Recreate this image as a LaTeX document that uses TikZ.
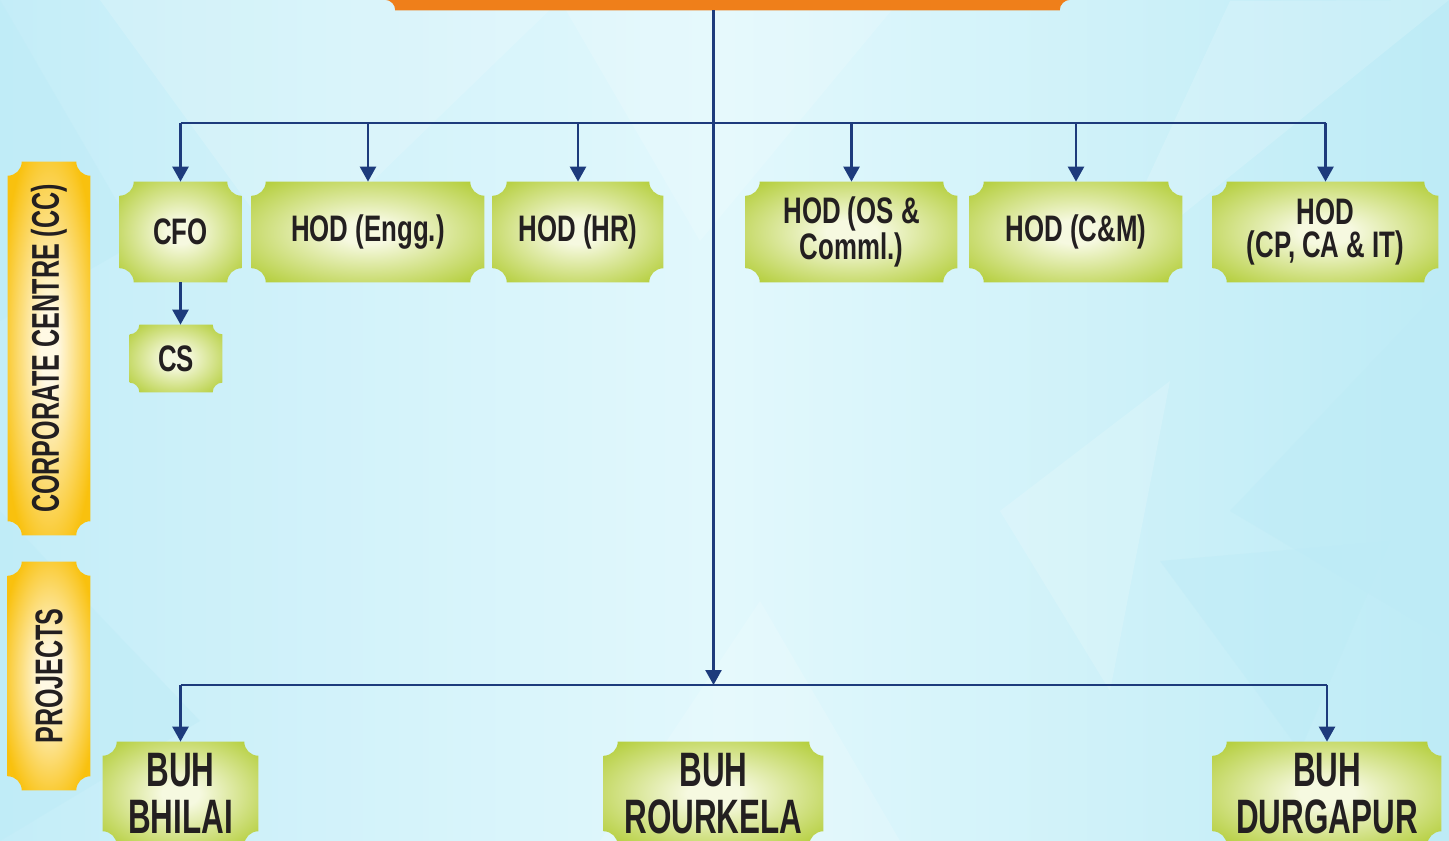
\documentclass[tikz,border=0pt]{standalone}
\usepackage{fontspec}
\usepackage{graphicx}
\setmainfont{Liberation Sans}[FakeStretch=0.7]
\newfontfamily\narrowfont{Liberation Sans}[FakeStretch=0.65]
\usetikzlibrary{arrows.meta,calc}

\definecolor{navy}{HTML}{1D3B7C}
\definecolor{ink}{HTML}{231F20}
\definecolor{leaf}{HTML}{AECA2C}
\definecolor{leafpale}{HTML}{F6F9E0}
\definecolor{gold}{HTML}{F9C10E}
\definecolor{goldpale}{HTML}{FFF9E4}
\definecolor{tangerine}{HTML}{EF7F1A}
\definecolor{skyleft}{HTML}{C4EDF8}
\definecolor{skymid}{HTML}{E2F8FC}
\definecolor{skyright}{HTML}{BDEBF6}

\pgfdeclareradialshading{leafglow}{\pgfpoint{0bp}{0bp}}{color(0bp)=(leafpale); color(6bp)=(leafpale); color(36bp)=(leaf); color(50bp)=(leaf)}
\pgfdeclareradialshading{goldglow}{\pgfpoint{0bp}{0bp}}{color(0bp)=(goldpale); color(5bp)=(goldpale); color(30bp)=(gold); color(50bp)=(gold)}

\pgfdeclarelayer{bg}
\pgfsetlayers{bg,main}

% box with scooped corners behind a node: node, radius, fill style
\newcommand\ticket[3]{%
  \begin{pgfonlayer}{bg}
  \path[#3] ([xshift=#2]#1.south west) -- ([xshift=-#2]#1.south east)
    arc[start angle=180,end angle=90,radius=#2] -- ([yshift=-#2]#1.north east)
    arc[start angle=270,end angle=180,radius=#2] -- ([xshift=#2]#1.north west)
    arc[start angle=0,end angle=-90,radius=#2] -- ([yshift=#2]#1.south west)
    arc[start angle=90,end angle=0,radius=#2] -- cycle;
  \end{pgfonlayer}}

\begin{document}
\begin{tikzpicture}[x=0.02cm,y=0.02cm,
  lbl/.style={font=\bfseries\fontsize{21}{19.3}\selectfont, text=ink, align=center, inner sep=0pt},
  big/.style={lbl, font=\narrowfont\bfseries\fontsize{27.5}{26.6}\selectfont},
  side/.style={lbl, font=\narrowfont\bfseries\fontsize{22}{24}\selectfont},
  link/.style={draw=navy, line width=1.6pt},
  arr/.style={link, -{Triangle[length=8.5pt,width=9pt]}},
  leafbox/.style={shade, shading=leafglow},
  goldbox/.style={shade, shading=goldglow},
  facet/.style={fill=white, opacity=0.16},
  deep/.style={fill=skyright, opacity=0.45}]
\useasboundingbox (0,0) rectangle (1449,841);

% background
\begin{pgfonlayer}{bg}
\shade[left color=skyleft, right color=skyright, middle color=skymid] (0,0) rectangle (1449,841);
\fill[facet] (100,841) -- (290,580) -- (560,841) -- cycle;
\fill[facet] (560,841) -- (700,600) -- (900,841) -- cycle;
\fill[facet] (1100,560) -- (1230,840) -- (1449,841) -- cycle;
\fill[facet] (1000,330) -- (1170,460) -- (1110,150) -- cycle;
\fill[facet] (600,0) -- (760,240) -- (900,0) -- cycle;
\fill[deep] (1230,330) -- (1449,560) -- (1449,200) -- cycle;
\fill[deep] (1160,280) -- (1300,90) -- (1390,300) -- cycle;
\fill[deep] (0,0) -- (0,330) -- (200,120) -- cycle;
\fill[deep] (0,841) -- (140,600) -- (0,520) -- cycle;
\end{pgfonlayer}

% top bar and the two side labels
\node[lbl, minimum width=13.7cm, minimum height=1.2cm] (top) at (727.5,861) {};
\node[side, minimum width=1.64cm, minimum height=7.46cm] (CC) at (49,492.5)
  {\rotatebox{90}{CORPORATE CENTRE (CC)}};
\node[side, minimum width=1.64cm, minimum height=4.56cm] (PR) at (49,165)
  {\rotatebox{90}{PROJECTS}};

% corporate centre
\node[lbl, minimum width=2.42cm, minimum height=2cm] (CFO) at (180.5,609) {CFO};
\node[lbl, minimum width=4.64cm, minimum height=2cm] (ENG) at (368,609) {HOD (Engg.)};
\node[lbl, minimum width=3.4cm,  minimum height=2cm] (HR)  at (578,609) {HOD (HR)};
\node[lbl, minimum width=4.22cm, minimum height=2cm] (OSC) at (851.5,609) {HOD (OS \&\\Comml.)};
\node[lbl, minimum width=4.24cm, minimum height=2cm] (CM)  at (1076,609) {HOD (C\&M)};
\node[lbl, minimum width=4.5cm,  minimum height=2cm] (CP)  at (1325.5,609) {HOD\\(CP, CA \& IT)};
\node[lbl, minimum width=1.84cm, minimum height=1.34cm] (CS) at (176,482.5) {CS};

% projects
\node[big, minimum width=3.1cm,  minimum height=2.06cm] (BHI) at (180.5,47.5) {BUH\\BHILAI};
\node[big, minimum width=4.38cm, minimum height=2.06cm] (ROU) at (713.5,47.5) {BUH\\ROURKELA};
\node[big, minimum width=4.56cm, minimum height=2.06cm] (DUR) at (1327,47.5) {BUH\\DURGAPUR};

\ticket{top}{6pt}{fill=tangerine}
\ticket{CC}{8pt}{goldbox}
\ticket{PR}{8pt}{goldbox}
\foreach \n in {CFO,ENG,HR,OSC,CM,CP,BHI,ROU,DUR}
  {\ticket{\n}{8pt}{leafbox}}
\ticket{CS}{5.5pt}{leafbox}

% connectors
\coordinate (hbus) at (0,718);
\coordinate (pbus) at (0,156);
\draw[link] (CFO.north |- hbus) -- (CP.north |- hbus);
\foreach \n in {CFO,ENG,HR,OSC,CM,CP}
  \draw[arr] (\n.north |- hbus) -- (\n.north);
\draw[arr] (CFO.south) -- (CFO.south |- CS.north);
\draw[arr] (top.south -| ROU) -- (ROU |- pbus);
\draw[link] (BHI.north |- pbus) -- (DUR.north |- pbus);
\draw[arr] (BHI.north |- pbus) -- (BHI.north);
\draw[arr] (DUR.north |- pbus) -- (DUR.north);
\end{tikzpicture}
\end{document}
